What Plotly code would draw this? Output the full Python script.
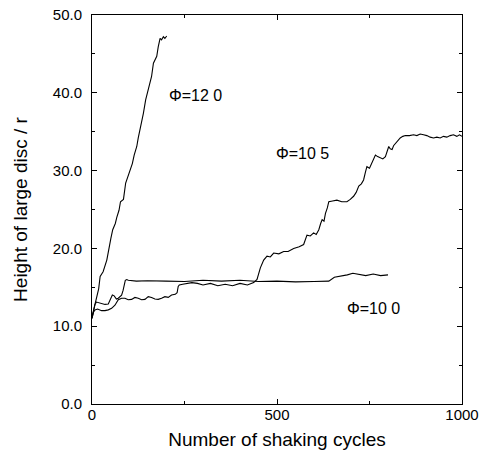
import plotly.graph_objects as go

# Phi = 12.0
x_120 = [0, 3, 8, 13, 18, 22, 30, 40, 46, 51, 56, 63, 67, 73, 77, 85, 91, 99, 103, 109, 114, 121, 125, 130,
         135, 139, 145, 150, 155, 161, 166, 170, 175, 179, 184, 188, 193, 197, 202]
y_120 = [11.2, 11.8, 12.4, 13.4, 14.8, 16.4, 17.0, 18.5, 20.2, 21.3, 22.4, 23.2, 24.0, 24.9, 26.0, 26.3, 28.4,
         29.4, 29.9, 30.9, 32.0, 33.1, 34.2, 35.2, 36.4, 37.4, 39.1, 40.0, 40.8, 42.1, 43.8, 44.2, 44.7, 45.9,
         47.0, 46.8, 47.2, 47.0, 47.3]

# Phi = 10.0
x_100 = [0, 4, 8, 12, 20, 26, 35, 44, 50, 55, 60, 66, 71, 76, 80, 84, 87, 90, 94, 98, 120, 150, 200, 250,
         300, 350, 400, 450, 500, 550, 600, 640, 655, 670, 690, 705, 720, 740, 760, 780, 800]
y_100 = [11.0, 12.2, 12.8, 13.1, 13.0, 12.9, 12.8, 12.85, 13.4, 14.0, 13.9, 13.5, 13.6, 13.8, 14.0, 14.6,
         15.3, 15.9, 16.0, 15.9, 15.8, 15.85, 15.8, 15.75, 15.9, 15.8, 15.9, 15.75, 15.8, 15.7, 15.75, 15.8,
         16.3, 16.4, 16.6, 16.8, 16.7, 16.5, 16.7, 16.5, 16.6]

# Phi = 10.5
x_105 = [0, 4, 8, 15, 26, 35, 44, 53, 62, 71, 80, 89, 98, 107, 116, 125, 134, 143, 152, 161, 170, 179, 188,
         197, 206, 215, 225, 230, 233, 236, 245, 256, 270, 285, 300, 320, 340, 360, 380, 400, 420, 437, 446,
         455, 464, 473, 482, 491, 505, 518, 530, 545, 560, 572, 577, 581, 590, 599, 606, 613, 618, 622, 627,
         631, 636, 640, 650, 662, 675, 689, 698, 707, 714, 721, 728, 734, 739, 743, 750, 757, 762, 766, 772,
         779, 786, 793, 797, 802, 806, 811, 815, 820, 826, 833, 840, 847, 858, 869, 878, 887, 896, 905, 914,
         923, 932, 941, 950, 959, 968, 977, 986, 993, 1000]
y_105 = [11.0, 11.8, 12.1, 12.2, 12.0, 12.0, 12.1, 12.3, 12.7, 13.4, 13.6, 13.6, 13.4, 13.45, 13.7, 13.6,
         13.4, 13.45, 13.8, 13.7, 13.5, 13.45, 13.6, 13.8, 13.7, 14.0, 14.1, 14.3, 15.1, 15.3, 15.4, 15.5,
         15.6, 15.5, 15.3, 15.5, 15.2, 15.4, 15.2, 15.5, 15.3, 15.6, 16.0, 17.5, 18.5, 19.0, 18.9, 19.4,
         19.3, 19.6, 19.6, 20.0, 20.2, 20.5, 21.2, 21.7, 21.6, 22.0, 21.8, 22.4, 23.2, 23.7, 23.5, 24.5,
         25.2, 26.0, 26.1, 26.2, 26.0, 26.0, 26.3, 26.7, 27.2, 28.0, 28.3, 28.8, 29.8, 30.5, 30.3, 31.0,
         31.5, 32.0, 31.8, 31.6, 31.5, 31.8, 32.5, 33.1, 32.8, 32.7, 33.2, 33.5, 33.8, 34.2, 34.4, 34.5,
         34.5, 34.6, 34.5, 34.7, 34.6, 34.5, 34.3, 34.2, 34.3, 34.2, 34.4, 34.3, 34.5, 34.6, 34.4, 34.6, 34.4]

labels = ["Φ=12 0", "Φ=10 5", "Φ=10 0"]
label_x = [203, 491, 683]
label_y = [39.6, 32.2, 12.3]

x_ticks = [0, 500, 1000]
y_ticks = [0, 10, 20, 30, 40, 50]

FONT = "Liberation Sans, Arial, sans-serif"

fig = go.Figure()
for xs, ys in [(x_120, y_120), (x_100, y_100), (x_105, y_105)]:
    fig.add_trace(go.Scatter(x=xs, y=ys, mode="lines", line=dict(color="black", width=1.1),
                             showlegend=False, hoverinfo="skip"))

for t, lx, ly in zip(labels, label_x, label_y):
    fig.add_annotation(x=lx, y=ly, text=t, showarrow=False, xanchor="left", yanchor="middle",
                       font=dict(size=16, color="black", family=FONT))

axis_common = dict(showline=True, linecolor="black", linewidth=1, mirror="allticks", showgrid=False,
                   zeroline=False, ticks="inside", ticklen=5, tickcolor="black", automargin=False,
                   ticklabeloverflow="allow",
                   tickfont=dict(size=15, color="black", family=FONT),
                   title_font=dict(size=19, color="black", family=FONT))

fig.update_xaxes(range=[0, 1000], tickvals=x_ticks, ticktext=[str(v) for v in x_ticks],
                 minor=dict(ticks="inside", dtick=250, ticklen=3, tickcolor="black"),
                 title_text="Number of shaking cycles", title_standoff=10, ticklabelstandoff=-3, **axis_common)
fig.update_yaxes(range=[0, 50], tickvals=y_ticks, ticktext=["%.1f" % v for v in y_ticks],
                 minor=dict(ticks="inside", dtick=5, ticklen=3, tickcolor="black"),
                 title_text="Height of large disc / r", title_standoff=20, ticklabelstandoff=6, **axis_common)

fig.update_layout(width=483, height=455, margin=dict(l=92, r=21, t=15, b=51),
                  plot_bgcolor="white", paper_bgcolor="white")

# remove the page's default 8px body margin so the figure fills the window exactly
fig.write_html("out.html", config={"displayModeBar": False},
               post_script="document.body.style.margin='0';")
